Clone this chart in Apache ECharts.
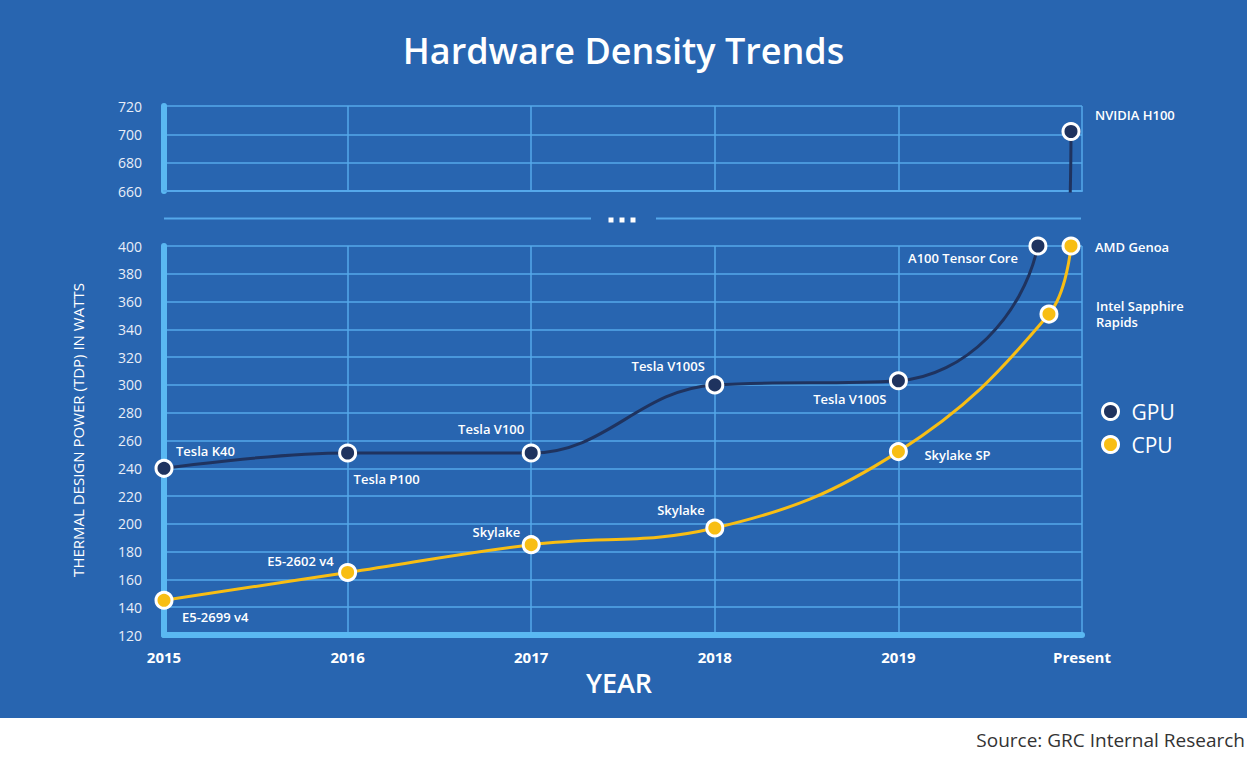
<!DOCTYPE html>
<html>
<head>
<meta charset="utf-8">
<script src="https://cdn.jsdelivr.net/npm/echarts@6/dist/echarts.min.js"></script>
<style>
html,body{margin:0;padding:0;background:#ffffff;}
#chart{width:1247px;height:757px;}
</style>
</head>
<body>
<div id="chart"></div>
<script>
// ---- data ----
const xTickLabels = ['2015', '2016', '2017', '2018', '2019', 'Present'];
const gpuYears = [2015, 2016, 2017, 2018, 2019, 2019.76, 2019.94];
const gpuTdp   = [240, 251, 251, 300, 303, 400, 702];
const gpuNames = ['Tesla K40', 'Tesla P100', 'Tesla V100', 'Tesla V100S', 'Tesla V100S', 'A100 Tensor Core', 'NVIDIA H100'];
const cpuYears = [2015, 2016, 2017, 2018, 2019, 2019.82, 2019.94];
const cpuTdp   = [145, 165, 185, 197, 252, 351, 400];
const cpuNames = ['E5-2699 v4', 'E5-2602 v4', 'Skylake', 'Skylake', 'Skylake SP', 'Intel Sapphire\nRapids', 'AMD Genoa'];
const upperTicks = [660, 720];   // upper panel range
const lowerTicks = [120, 400];   // lower panel range

// ---- styles / layout ----
const BG = '#2865b0';
const GRID_LINE = '#55a8ea';
const BORDER = '#5ab8f2';
const GPU_COLOR = '#1f335f';
const CPU_COLOR = '#f8be14';
const FONT = '"Open Sans", "Noto Sans", sans-serif';

const gpuLabelLayout = [
  {dx: 12, dy: -17, align: 'left'},
  {dx: 6, dy: 26, align: 'left'},
  {dx: -7, dy: -24, align: 'right'},
  {dx: -10, dy: -19, align: 'right'},
  {dx: -12, dy: 18, align: 'right'},
  {dx: -20, dy: 12, align: 'right'},
  {dx: 24, dy: -17, align: 'left'}
];
const cpuLabelLayout = [
  {dx: 18, dy: 17, align: 'left'},
  {dx: -14, dy: -11, align: 'right'},
  {dx: -11, dy: -13, align: 'right'},
  {dx: -10, dy: -18, align: 'right'},
  {dx: 26, dy: 3, align: 'left'},
  {dx: 47, dy: 0, align: 'left'},
  {dx: 24, dy: 1, align: 'left'}
];

function buildData(xs, ys, names, layout, showFn) {
  return xs.map((x, i) => ({
    value: [x, ys[i]],
    label: {
      show: showFn(i),
      formatter: names[i],
      position: 'inside',
      offset: [layout[i].dx, layout[i].dy],
      align: layout[i].align,
      verticalAlign: 'middle',
      color: '#ffffff',
      fontSize: 13,
      fontWeight: 600,
      fontFamily: FONT,
      lineHeight: 16
    }
  }));
}

const GRID_LEFT = 164, GRID_WIDTH = 918;

function xAxisCfg(gridIndex, isBottom) {
  return {
    gridIndex: gridIndex, type: 'value', min: 2015, max: 2020, interval: 1,
    axisLine: {show: true, onZero: false, lineStyle: {color: isBottom ? BORDER : GRID_LINE, width: isBottom ? 6 : 2}},
    axisTick: {show: false},
    axisLabel: isBottom ? {
      show: true, color: '#ffffff', fontSize: 15, fontWeight: 700, fontFamily: FONT, margin: 14,
      formatter: v => xTickLabels[Math.round(v - 2015)]
    } : {show: false},
    splitLine: {show: true, lineStyle: {color: GRID_LINE, width: 1.5}}
  };
}
function yAxisCfg(gridIndex, range) {
  return {
    gridIndex: gridIndex, type: 'value', min: range[0], max: range[1], interval: 20,
    axisLine: {show: true, onZero: false, lineStyle: {color: BORDER, width: 6}},
    axisTick: {show: false},
    axisLabel: {color: '#e8eef8', fontSize: 14, fontFamily: FONT, margin: 22},
    splitLine: {show: true, lineStyle: {color: GRID_LINE, width: 1.5}}
  };
}

function seriesCfg(name, color, xi, yi, data) {
  return {
    name: name, type: 'line', xAxisIndex: xi, yAxisIndex: yi,
    smooth: 0.4, clip: true,
    symbol: 'circle', symbolSize: 16,
    lineStyle: {color: color, width: 3},
    itemStyle: {color: color, borderColor: '#ffffff', borderWidth: 3},
    emphasis: {disabled: true},
    data: data, z: 3
  };
}

const chart = echarts.init(document.getElementById('chart'), null, {renderer: 'svg'});
chart.setOption({
  animation: false,
  backgroundColor: '#ffffff',
  title: {
    text: 'Hardware Density Trends', left: 'center', top: 27,
    textStyle: {color: '#ffffff', fontSize: 36, fontWeight: 600, fontFamily: FONT}
  },
  legend: {
    data: ['GPU', 'CPU'], orient: 'vertical', left: 1101, top: 401, padding: 0,
    icon: 'circle', itemWidth: 16, itemHeight: 16, itemGap: 12,
    itemStyle: {borderColor: '#ffffff', borderWidth: 3},
    textStyle: {color: '#ffffff', fontSize: 21, fontFamily: FONT, padding: [0, 0, 0, 8]}
  },
  grid: [
    {left: GRID_LEFT, width: GRID_WIDTH, top: 106, height: 85},
    {left: GRID_LEFT, width: GRID_WIDTH, top: 246, height: 389}
  ],
  xAxis: [xAxisCfg(0, false), xAxisCfg(1, true)],
  yAxis: [yAxisCfg(0, upperTicks), yAxisCfg(1, lowerTicks)],
  series: [
    seriesCfg('GPU', GPU_COLOR, 1, 1, buildData(gpuYears, gpuTdp, gpuNames, gpuLabelLayout, i => i < gpuYears.length - 1)),
    seriesCfg('CPU', CPU_COLOR, 1, 1, buildData(cpuYears, cpuTdp, cpuNames, cpuLabelLayout, i => true)),
    seriesCfg('GPU', GPU_COLOR, 0, 0, buildData(gpuYears, gpuTdp, gpuNames, gpuLabelLayout, i => i === gpuYears.length - 1))
  ],
  graphic: [
    {type: 'rect', z: -100, silent: true, shape: {x: 0, y: 0, width: 1247, height: 718}, style: {fill: BG}},
    {type: 'line', z: 1, silent: true, shape: {x1: 164, y1: 218.5, x2: 591, y2: 218.5}, style: {stroke: GRID_LINE, lineWidth: 2}},
    {type: 'line', z: 1, silent: true, shape: {x1: 656, y1: 218.5, x2: 1081, y2: 218.5}, style: {stroke: GRID_LINE, lineWidth: 2}},
    {type: 'rect', z: 1, silent: true, shape: {x: 608.5, y: 217.5, width: 5, height: 5}, style: {fill: '#ffffff'}},
    {type: 'rect', z: 1, silent: true, shape: {x: 619.5, y: 217.5, width: 5, height: 5}, style: {fill: '#ffffff'}},
    {type: 'rect', z: 1, silent: true, shape: {x: 630.5, y: 217.5, width: 5, height: 5}, style: {fill: '#ffffff'}},
    {type: 'text', z: 1, silent: true, x: 78, y: 430, rotation: Math.PI / 2,
      style: {text: 'THERMAL DESIGN POWER (TDP) IN WATTS', fill: '#ffffff', fontSize: 15, fontWeight: 500, fontFamily: FONT, align: 'center', verticalAlign: 'middle'}},
    {type: 'text', z: 1, silent: true, x: 619, y: 682,
      style: {text: 'YEAR', fill: '#ffffff', fontSize: 27, fontWeight: 600, fontFamily: FONT, align: 'center', verticalAlign: 'middle'}},
    {type: 'text', z: 1, silent: true, x: 1245, y: 740,
      style: {text: 'Source: GRC Internal Research', fill: '#333333', fontSize: 19, fontWeight: 400, fontFamily: FONT, align: 'right', verticalAlign: 'middle'}}
  ]
});
</script>
</body>
</html>
